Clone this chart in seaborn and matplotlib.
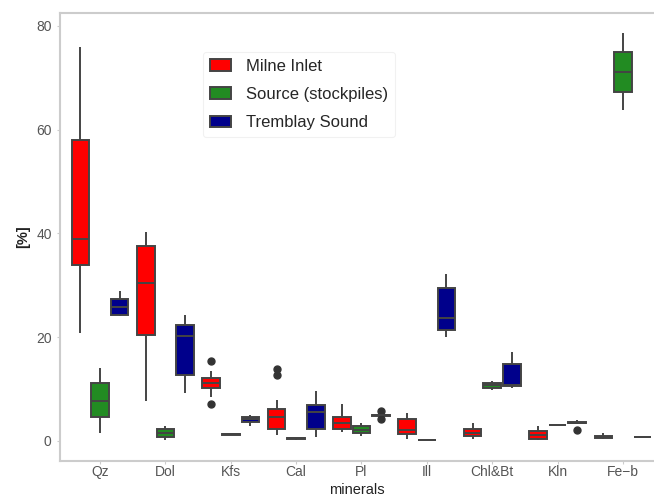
import pandas as pd
import seaborn as sns
import matplotlib.pyplot as plt

# box values, one list per mineral (min..max, with outliers)
minerals = ["Qz", "Dol", "Kfs", "Cal", "Pl", "Ill", "Chl&Bt", "Kln", "Fe\u2212b"]
sites = ["Milne Inlet", "Source (stockpiles)", "Tremblay Sound"]
colors = ["#ff0000", "#228b22", "#00008b"]

milne = [
    [20.9, 33.9, 39.0, 58.0, 75.9],
    [7.8, 20.4, 30.4, 37.6, 40.2],
    [7.2, 8.5, 10.2, 10.6, 11.2, 11.6, 12.1, 13.4, 15.4],
    [1.2, 1.8, 2.2, 2.4, 3.0, 4.0, 4.6, 5.0, 5.8, 6.2, 7.9, 12.7, 13.8],
    [1.8, 2.4, 3.5, 4.6, 7.1],
    [0.3, 1.3, 2.1, 4.3, 5.3],
    [0.3, 1.0, 1.6, 2.3, 3.4],
    [0.2, 0.4, 1.2, 1.9, 2.9],
    [0.4, 0.6, 0.75, 1.0, 1.5],
]
source = [
    [1.6, 4.6, 7.8, 11.1, 14.0],
    [0.2, 0.7, 1.5, 2.4, 2.9],
    [1.1, 1.2, 1.3, 1.35, 1.4],
    [0.2, 0.4, 0.5, 0.6, 0.7],
    [1.0, 1.5, 2.2, 2.9, 3.4],
    [0.0, 0.1, 0.15, 0.2, 0.3],
    [9.8, 10.3, 10.8, 11.2, 11.6],
    [2.95, 3.0, 3.05, 3.1, 3.15],
    [63.7, 67.3, 71.1, 74.9, 78.6],
]
tremblay = [
    [24.0, 24.2, 25.8, 27.4, 28.9],
    [9.3, 12.8, 20.2, 22.4, 24.2],
    [2.8, 3.7, 4.2, 4.7, 5.1],
    [0.8, 2.3, 5.5, 6.9, 9.6],
    [4.3, 4.85, 4.9, 4.95, 5.0, 5.05, 5.1, 5.15, 5.7],
    [20.1, 21.4, 23.8, 29.4, 32.2],
    [10.3, 10.6, 10.8, 14.8, 17.2],
    [2.2, 3.3, 3.4, 3.45, 3.55, 3.6, 3.7, 3.9, 3.95],
    [0.7, 0.75, 0.8, 0.85, 0.9],
]

rows = []
for site, series in zip(sites, [milne, source, tremblay]):
    for m, vals in zip(minerals, series):
        for v in vals:
            rows.append({"minerals": m, "site": site, "value": v})
df = pd.DataFrame(rows)

sns.set_style("ticks")
plt.rcParams["font.family"] = ["Liberation Sans", "DejaVu Sans"]

fig = plt.figure(figsize=(6.54, 5.04), dpi=100)
ax = fig.add_axes([0.0917, 0.0853, 0.9083, 0.889])

sns.boxplot(data=df, x="minerals", y="value", hue="site", order=minerals,
            hue_order=sites, palette=colors, saturation=1, width=0.9, gap=0.1,
            linecolor="#444444", linewidth=1.4, showcaps=False,
            flierprops=dict(marker="o", markerfacecolor="#333333",
                            markeredgecolor="#333333", markersize=5),
            ax=ax)

ax.set_xlim(-0.612, 8.474)
ax.set_ylim(-3.86, 82.5)
ax.set_yticks([0, 20, 40, 60, 80])
ax.set_xlabel("minerals", fontsize=10.5, color="#222222", labelpad=3)
ax.set_ylabel("[%]", fontsize=10.5, color="#222222", fontweight="bold")
ax.tick_params(colors="#cccccc", labelcolor="#555555", labelsize=10, length=2.5)
ax.tick_params(axis="x", pad=0.5)

for side in ["left", "bottom", "top"]:
    ax.spines[side].set_visible(True)
    ax.spines[side].set_color("#cccccc")
    ax.spines[side].set_linewidth(1.5)
ax.spines["right"].set_visible(False)

leg = ax.legend(loc="upper left", bbox_to_anchor=(0.241, 0.913), fontsize=12,
                frameon=True, edgecolor="#eeeeee", handlelength=1.3,
                handletextpad=0.9, borderpad=0.4, labelspacing=0.8,
                borderaxespad=0)
leg.get_frame().set_linewidth(0.8)

fig.savefig("out.png", dpi=100)
